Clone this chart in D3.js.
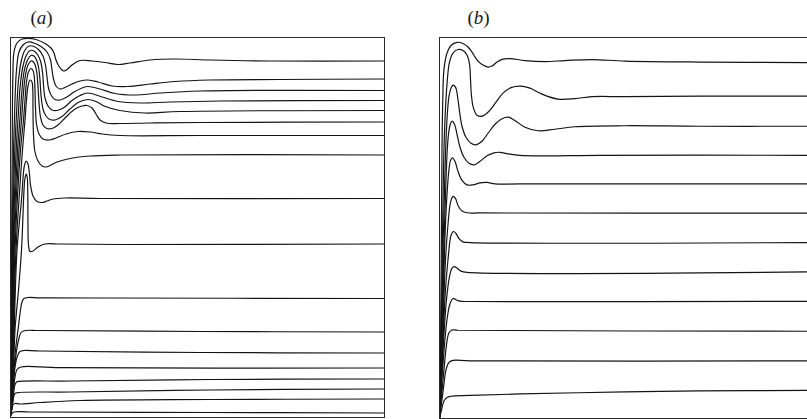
<!DOCTYPE html>
<html>
<head>
<meta charset="utf-8">
<script src="https://cdn.jsdelivr.net/npm/d3@7"></script>
<style>
  html, body { margin: 0; padding: 0; background: #ffffff; }
  svg { display: block; }
</style>
</head>
<body>
<svg id="chart" width="807" height="419"></svg>
<script>
// Cavity extent in grid units (x measured from the left wall, y from the bottom wall)
const cavityWidth = 374;
const cavityHeight = 380;

const panelNames = ["a", "b"];

// Streamlines for case (a), each an ordered list of [x, y] points
const streamlinesA = [
  [[0.3,0],[1,67],[1.6,167],[2.2,267],[2.8,337],[4,365],[7,374],[12,378],[18,378.7],[26,377.5],[35,373.5],[41,369],[44,364],[46,357],[48.5,351.5],[51.5,347.5],[54,346],[57,347.5],[62,352],[70,356.5],[82,356],[95,354.5],[108,352.5],[120,354],[140,357],[165,358],[200,357],[260,356],[374,356]],
  [[0.3,0],[1.3,67],[2.1,167],[3.5,267],[5,317],[6.5,347],[9,365],[13,372],[18,375],[24,374],[31,370.5],[37,365],[40.5,357],[42,347],[43.5,338],[46,331],[50,328],[55,329.5],[62,333],[70,336],[78,337],[88,335],[102,331],[118,330.5],[140,333],[165,335.5],[200,337],[270,337.5],[374,338]],
  [[0.3,0],[1.6,67],[2.6,167],[4.8,267],[6.7,307],[8.5,337],[11.5,357],[15,367],[19,371],[24,370.5],[29,367],[33,361],[35.5,352],[37,340],[38.5,329],[41,322],[45,317.5],[50,317],[56,319.5],[64,325],[72,329],[78,330.5],[90,328],[105,323.5],[125,322],[150,324],[190,326],[374,326.5]],
  [[0.3,0],[1.9,67],[3.1,167],[6.2,267],[8.3,302],[10,329],[13,351],[16.5,362],[20,366.5],[24,366],[27.5,362.5],[30.5,356],[32.5,345],[33.5,332],[35,319],[38,311],[42,307],[47,306.5],[54,309.5],[62,316.5],[70,321.5],[78,324],[92,320],[108,315.5],[130,314],[160,315],[210,316],[374,316.5]],
  [[0.3,0],[2.2,67],[3.6,167],[7.6,267],[10,299],[11.8,325],[14,345],[17.5,357],[21,361.5],[24,361],[26.5,357],[28.5,350],[30,337],[31,322],[33,308],[36,301],[40,297.5],[45,297],[52,300.5],[60,308],[69,315],[78,317.5],[86,315.5],[94,311],[110,306.5],[135,304],[170,305.5],[374,306.5]],
  [[0.3,0],[2.5,67],[4.2,167],[9,267],[11.5,297],[13.3,322],[15.3,341],[18,352],[21,356],[23.5,355],[25.5,351],[27,343],[28,330],[29,314],[30.5,300],[33,292],[37,288.5],[42,288.5],[48,292],[56,300],[65,308],[72,311],[77,311.5],[82,309],[86,303],[90,297],[96,294],[110,293.5],[140,294],[190,294.5],[374,295]],
  [[0.3,0],[2.8,67],[5,167],[10.5,267],[13.5,297],[15,317],[16.5,335],[18.5,345],[21,348.5],[23,346.5],[24.3,340],[25,327],[25.5,309],[26.5,293],[29,283],[33,278],[39,277],[46,279],[56,283],[68,285.5],[80,285],[92,283],[110,281.5],[190,281.5],[374,281.5]],
  [[0.3,0],[3.1,67],[6,167],[12.5,267],[15,297],[16.5,317],[18,331],[20,337],[22,335],[22.8,327],[23,307],[23.5,282],[25,265],[28,256],[32,251],[36,250],[41,252],[47,255],[60,258.5],[80,261],[110,262],[374,262]],
  [[0.3,0],[3.5,67],[7,167],[11.5,217],[13.3,242],[14.5,252],[16.2,256],[18,253],[19.3,245],[20.5,232],[23,221],[27,215.5],[32,214.5],[37,216],[43,218],[55,219],[90,218.5],[374,218.5]],
  [[0.3,0],[1.8,22],[3.6,55],[5.2,90],[8.5,127],[11.5,167],[13,202],[14,227],[15,239],[16.3,243],[17.3,239],[17.8,222],[18,192],[18.5,172],[20,165.5],[23,166],[28,170],[35,173],[50,173],[110,172.5],[374,173]],
  [[0.3,0],[2.0,22],[4.1,50],[5.8,70],[8,87],[10.5,107],[12,115],[14,118.5],[18,119.5],[30,119.2],[90,119],[374,118.5]],
  [[0.3,0],[2.3,22],[4.6,50],[6.8,68],[8.8,78],[10.8,84],[14,86.3],[30,86.5],[190,85.5],[374,85]],
  [[0.3,0],[2.6,22],[5,50],[7.5,61],[10,65.5],[14,66.5],[30,66],[190,64.5],[374,64]],
  [[0.3,0],[3,22],[5,40],[7,47.5],[11,50],[50,49.3],[374,49]],
  [[0.3,0],[3.3,20],[4.6,31],[6.5,35],[10,35.7],[60,36],[200,37.5],[374,38]],
  [[0.3,0],[2.8,14],[3.6,20],[5,23.5],[9,24.5],[60,25],[200,27],[374,28]],
  [[0.3,0],[2,8],[3,12],[5,13.5],[10,13],[30,14.5],[70,16.5],[200,17.5],[374,18]],
  [[0.3,0],[1.5,3],[4,5],[20,5],[200,4.5],[374,4]]
];

// Streamlines for case (b)
const streamlinesB = [
  [[0.5,0],[1.5,68],[2.3,168],[3,268],[3.8,318],[5,348],[8,364],[12,371.5],[18,374.7],[24,373.5],[29,370],[33,365],[36,360],[40,355],[45,351.5],[49,350],[53,351],[58,355],[64,358],[71,358.5],[86,356.5],[106,355.5],[126,356.5],[153,357.5],[186,356],[261,355],[374,354.5]],
  [[0.5,0],[2,68],[3.3,168],[4.5,248],[6,298],[8,333],[10.5,355],[14,364],[19,367.5],[24,366.5],[28,362],[30.5,353],[31.5,338],[32.5,321],[34.5,309],[38,302],[43,301],[50,306],[57,315],[64,324],[72,329.5],[81,331],[91,329],[103,323],[119,318],[136,318.5],[153,320.5],[186,320.5],[261,321],[374,321]],
  [[0.5,0],[2.5,68],[4,168],[6,248],[8,298],[10,321],[12,329],[14,332],[16.5,330],[18.5,321],[20.5,306],[23,291],[27,280],[32,274],[37,272.5],[43,276],[49,284],[56,293],[63,298.5],[69,300],[73,298.5],[77,296],[86,290],[99,286.5],[116,288],[136,290.5],[186,291.5],[261,291],[374,291]],
  [[0.5,0],[2.8,68],[4.8,168],[7,238],[9,278],[11,292],[13,296],[15.5,293],[18,283],[21,270],[25,260],[30,254],[35,252.5],[41,256],[48,261.5],[55,264.5],[61,265],[69,263.5],[81,262],[106,261.5],[161,262],[374,262]],
  [[0.5,0],[3,68],[5.5,168],[8,223],[10,248],[11.5,257],[13.5,259.5],[16,256],[19,246],[23,237],[28,232.5],[34,232.5],[41,234.5],[48,235],[56,233.5],[81,233.5],[374,233.5]],
  [[0.5,0],[3.3,68],[6,148],[9,193],[11.5,215],[14,221],[16.5,219],[19,212],[23,206.5],[28,204.7],[41,204.5],[374,204.3]],
  [[0.5,0],[3.6,68],[6.5,128],[9.5,163],[12,182],[14.5,186],[17,184],[20,179],[24,175.7],[31,175],[374,175]],
  [[0.5,0],[4,68],[7.5,118],[10.5,141],[13,149.5],[15.5,151],[18,149.5],[22,146.5],[28,145.3],[374,145.7]],
  [[0.5,0],[4.3,58],[8,98],[11,114],[14,119.2],[17,118],[21,116.5],[31,116.2],[374,116.3]],
  [[0.5,0],[4.5,43],[7.5,73],[10,85],[13,87.8],[19,87.5],[374,86.5]],
  [[0.5,0],[4,26],[7,48],[10,55.5],[14,57.5],[31,57],[374,57]],
  [[0.5,0],[2.5,8],[5,17],[8,20.5],[12,21.7],[31,22.5],[81,24],[186,26],[261,27],[374,27.5]]
];

const panels = [
  { name: panelNames[0], lines: streamlinesA, left: 10, top: 37, width: 374, height: 380, labelX: 41.5 },
  { name: panelNames[1], lines: streamlinesB, left: 439, top: 37, width: 374, height: 381, labelX: 478.5 }
];

const svg = d3.select("#chart");

panels.forEach(p => {
  const x = d3.scaleLinear().domain([0, cavityWidth]).range([p.left, p.left + p.width]);
  const y = d3.scaleLinear().domain([0, cavityHeight]).range([p.top + p.height, p.top]);

  const clipId = "clip-" + p.name;
  svg.append("clipPath").attr("id", clipId)
    .append("rect")
    .attr("x", x(0)).attr("y", y(cavityHeight))
    .attr("width", x(cavityWidth) - x(0))
    .attr("height", y(0) - y(cavityHeight));

  const g = svg.append("g");

  const line = d3.line()
    .x(d => x(d[0]))
    .y(d => y(d[1]))
    .curve(d3.curveCatmullRom.alpha(0.5));

  g.append("g")
    .attr("clip-path", `url(#${clipId})`)
    .selectAll("path")
    .data(p.lines)
    .join("path")
    .attr("d", line)
    .attr("fill", "none")
    .attr("stroke", "#141414")
    .attr("stroke-width", 1.2)
    .attr("stroke-linejoin", "round");

  // cavity walls
  g.append("rect")
    .attr("x", x(0) + 0.5)
    .attr("y", y(cavityHeight) + 0.5)
    .attr("width", x(cavityWidth) - x(0))
    .attr("height", y(0) - y(cavityHeight))
    .attr("fill", "none")
    .attr("stroke", "#2a2a2a")
    .attr("stroke-width", 1);

  // panel label
  const label = svg.append("text")
    .attr("x", p.labelX)
    .attr("y", 24)
    .attr("text-anchor", "middle")
    .attr("font-family", "'Liberation Serif', 'DejaVu Serif', serif")
    .attr("font-size", 19)
    .attr("fill", "#1a1a1a");
  label.append("tspan").text("(");
  label.append("tspan").attr("font-style", "italic").text(p.name);
  label.append("tspan").text(")");
});
</script>
</body>
</html>
